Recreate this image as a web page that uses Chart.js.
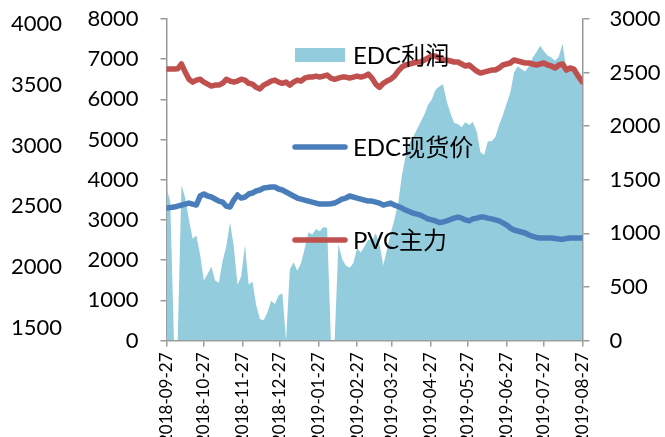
<!DOCTYPE html>
<html>
<head>
<meta charset="utf-8">
<script src="https://cdn.jsdelivr.net/npm/chart.js@4.4.0/dist/chart.umd.min.js"></script>
<style>
  html, body { margin: 0; padding: 0; background: #ffffff; }
  #wrap { width: 665px; height: 437px; }
</style>
</head>
<body>
<div id="wrap"><canvas id="chart" width="665" height="437"></canvas></div>
<script>
// Observation dates (every third day, last point on 2019-08-27)
const dates = [
  '2018-09-27','2018-09-30','2018-10-03','2018-10-06','2018-10-09','2018-10-12','2018-10-15','2018-10-18','2018-10-21','2018-10-24',
  '2018-10-27','2018-10-30','2018-11-02','2018-11-05','2018-11-08','2018-11-11','2018-11-14','2018-11-17','2018-11-20','2018-11-23',
  '2018-11-26','2018-11-29','2018-12-02','2018-12-05','2018-12-08','2018-12-11','2018-12-14','2018-12-17','2018-12-20','2018-12-23',
  '2018-12-26','2018-12-29','2019-01-01','2019-01-04','2019-01-07','2019-01-10','2019-01-13','2019-01-16','2019-01-19','2019-01-22',
  '2019-01-25','2019-01-28','2019-01-31','2019-02-03','2019-02-06','2019-02-09','2019-02-12','2019-02-15','2019-02-18','2019-02-21',
  '2019-02-24','2019-02-27','2019-03-02','2019-03-05','2019-03-08','2019-03-11','2019-03-14','2019-03-17','2019-03-20','2019-03-23',
  '2019-03-26','2019-03-29','2019-04-01','2019-04-04','2019-04-07','2019-04-10','2019-04-13','2019-04-16','2019-04-19','2019-04-22',
  '2019-04-25','2019-04-28','2019-05-01','2019-05-04','2019-05-07','2019-05-10','2019-05-13','2019-05-16','2019-05-19','2019-05-22',
  '2019-05-25','2019-05-28','2019-05-31','2019-06-03','2019-06-06','2019-06-09','2019-06-12','2019-06-15','2019-06-18','2019-06-21',
  '2019-06-24','2019-06-27','2019-06-30','2019-07-03','2019-07-06','2019-07-09','2019-07-12','2019-07-15','2019-07-18','2019-07-21',
  '2019-07-24','2019-07-27','2019-07-30','2019-08-02','2019-08-05','2019-08-08','2019-08-11','2019-08-14','2019-08-17','2019-08-20',
  '2019-08-23','2019-08-27'
];

// EDC利润 (right axis)
const edcProfit = [
  1420, 1300, 0, 0, 1450, 1330, 1130, 950, 980, 800,
  560, 620, 690, 560, 540, 740, 880, 1100, 880, 520,
  600, 890, 520, 550, 330, 200, 190, 260, 370, 340,
  420, 440, 0, 660, 730, 650, 720, 860, 1010, 990,
  1040, 1020, 1060, 1050, 0, 0, 900, 760, 700, 680,
  720, 860, 820, 880, 940, 930, 1000, 900, 700, 850,
  1000, 1130, 1280, 1540, 1720, 1840, 1900, 1970, 2040, 2110,
  2200, 2250, 2340, 2370, 2390, 2230, 2120, 2030, 2020, 1990,
  2040, 2010, 2040, 1950, 1760, 1730, 1860, 1860, 1900, 2010,
  2100, 2210, 2310, 2500, 2560, 2530, 2510, 2560, 2640, 2690,
  2750, 2700, 2660, 2640, 2610, 2650, 2770, 2530, 2550, 2560,
  2490, 2360
];

// EDC现货价 (left axis)
const edcSpot = [
  3295, 3310, 3320, 3345, 3370, 3395, 3420, 3395, 3370, 3595,
  3645, 3595, 3570, 3520, 3470, 3445, 3345, 3320, 3495, 3620,
  3545, 3570, 3645, 3670, 3720, 3745, 3795, 3805, 3820, 3820,
  3770, 3745, 3695, 3645, 3595, 3545, 3520, 3495, 3470, 3445,
  3420, 3395, 3395, 3395, 3405, 3420, 3470, 3520, 3545, 3595,
  3570, 3545, 3520, 3495, 3470, 3470, 3445, 3420, 3370, 3395,
  3420, 3370, 3335, 3295, 3245, 3210, 3170, 3145, 3120, 3070,
  3025, 3000, 2975, 2935, 2950, 2975, 3010, 3045, 3070, 3045,
  3000, 2975, 3025, 3045, 3070, 3070, 3045, 3025, 3000, 2975,
  2925, 2875, 2800, 2750, 2725, 2700, 2675, 2625, 2590, 2565,
  2550, 2550, 2550, 2550, 2540, 2525, 2515, 2540, 2550, 2550,
  2550, 2550
];

// PVC主力 (left axis)
const pvcMain = [
  6755, 6755, 6755, 6760, 6880, 6680, 6500, 6430, 6480, 6500,
  6430, 6380, 6330, 6355, 6355, 6400, 6500, 6455, 6430, 6455,
  6500, 6480, 6400, 6380, 6300, 6260, 6355, 6400, 6455, 6480,
  6430, 6400, 6430, 6355, 6430, 6480, 6455, 6530, 6555, 6555,
  6580, 6555, 6580, 6605, 6530, 6500, 6530, 6555, 6555, 6530,
  6555, 6580, 6555, 6580, 6630, 6530, 6380, 6300, 6400, 6455,
  6500, 6580, 6705, 6805, 6855, 6880, 6905, 6930, 6930, 6980,
  7030, 7080, 7080, 7030, 6980, 6980, 6955, 6930, 6930, 6880,
  6830, 6855, 6780, 6705, 6655, 6680, 6705, 6730, 6730, 6780,
  6855, 6880, 6905, 6980, 6955, 6930, 6905, 6905, 6880, 6855,
  6880, 6905, 6855, 6830, 6780, 6855, 6880, 6730, 6780, 6755,
  6605, 6430
];

// Axis tick labels
const xTickLabels = [
  '2018-09-27','2018-10-27','2018-11-27','2018-12-27','2019-01-27','2019-02-27',
  '2019-03-27','2019-04-27','2019-05-27','2019-06-27','2019-07-27','2019-08-27'
];
const outerLeftTicks = [1500, 2000, 2500, 3000, 3500, 4000];

const seriesNames = ['EDC利润', 'EDC现货价', 'PVC主力'];
const seriesColors = ['#93CDDD', '#4A7EBB', '#C0504D'];

// Calendar-day position of a date relative to the first observation
const DAY = 86400000;
const dayOf = s => (Date.parse(s) - Date.parse(dates[0])) / DAY;
const toPoints = vals => dates.map((d, i) => ({ x: dayOf(d), y: vals[i] }));

const AXIS_GRAY = '#9a9a9a';
const TICK_FONT = { family: 'Lato, "Noto Sans CJK SC", sans-serif', size: 22 };
const plain = v => String(v);

// Fixed box sizes so the plot area sits at the same place on every layout pass
const fixWidth = w => s => { s.width = w; s.paddingTop = 0; s.paddingBottom = 0; };
const fixHeight = h => s => { s.height = h; s.paddingLeft = 0; s.paddingRight = 0; };

// Legend drawn inside the plot, one item per row
const insideLegend = {
  id: 'insideLegend',
  afterDatasetsDraw(chart) {
    const ctx = chart.ctx;
    const symLeft = 295, symRight = 345, textX = 353;
    const rowY = [55, 147, 240];
    ctx.save();
    ctx.font = '24px Lato, "Noto Sans CJK SC", sans-serif';
    ctx.textBaseline = 'middle';
    ctx.textAlign = 'left';
    chart.data.datasets.forEach((ds, i) => {
      const y = rowY[i];
      if (ds.fill) {
        ctx.fillStyle = ds.backgroundColor;
        ctx.fillRect(symLeft, y - 7, symRight - symLeft, 14);
      } else {
        ctx.strokeStyle = ds.borderColor;
        ctx.lineWidth = 5.5;
        ctx.lineCap = 'round';
        ctx.beginPath();
        ctx.moveTo(symLeft, y);
        ctx.lineTo(symRight, y);
        ctx.stroke();
      }
      ctx.fillStyle = '#000000';
      ctx.fillText(ds.label, textX, y + 1);
    });
    ctx.restore();
  }
};

new Chart(document.getElementById('chart'), {
  type: 'line',
  data: {
    datasets: [
      {
        label: seriesNames[0],
        data: toPoints(edcProfit),
        yAxisID: 'yR',
        fill: 'origin',
        backgroundColor: seriesColors[0],
        borderColor: 'rgba(0,0,0,0)',
        borderWidth: 0,
        pointRadius: 0,
        tension: 0,
        order: 3
      },
      {
        label: seriesNames[1],
        data: toPoints(edcSpot),
        yAxisID: 'y',
        fill: false,
        borderColor: seriesColors[1],
        backgroundColor: seriesColors[1],
        borderWidth: 5.5,
        borderCapStyle: 'round',
        borderJoinStyle: 'round',
        pointRadius: 0,
        tension: 0,
        order: 2
      },
      {
        label: seriesNames[2],
        data: toPoints(pvcMain),
        yAxisID: 'y',
        fill: false,
        borderColor: seriesColors[2],
        backgroundColor: seriesColors[2],
        borderWidth: 5.5,
        borderCapStyle: 'round',
        borderJoinStyle: 'round',
        pointRadius: 0,
        tension: 0,
        order: 1
      }
    ]
  },
  options: {
    responsive: false,
    animation: false,
    devicePixelRatio: 1,
    layout: { padding: { top: 19, right: 0, bottom: 0, left: 0 } },
    plugins: { legend: { display: false }, tooltip: { enabled: false } },
    scales: {
      x: {
        type: 'linear',
        min: 0,
        max: dayOf(dates[dates.length - 1]),
        afterBuildTicks: s => { s.ticks = xTickLabels.map(l => ({ value: dayOf(l) })); },
        afterFit: fixHeight(96.5),
        ticks: {
          autoSkip: false,
          minRotation: 90,
          maxRotation: 90,
          padding: 6,
          color: '#000000',
          font: { family: 'Lato, sans-serif', size: 17 },
          callback: (v, i) => xTickLabels[i]
        },
        grid: { drawOnChartArea: false, color: AXIS_GRAY, tickLength: 6, lineWidth: 1.5 },
        border: { color: AXIS_GRAY, width: 1.5 }
      },
      y: {
        position: 'left',
        weight: 0,
        min: 0,
        max: 8000,
        afterFit: fixWidth(102.5),
        ticks: { stepSize: 1000, padding: 22, color: '#000000', font: TICK_FONT, callback: plain },
        grid: { drawOnChartArea: false, color: AXIS_GRAY, tickLength: 6, lineWidth: 1.5 },
        border: { color: AXIS_GRAY, width: 1.5 }
      },
      yO: {
        position: 'left',
        weight: 1,
        min: 1397,
        max: 4041,
        afterBuildTicks: s => { s.ticks = outerLeftTicks.map(v => ({ value: v })); },
        afterFit: fixWidth(64),
        ticks: { padding: 2, color: '#000000', font: TICK_FONT, callback: plain },
        grid: { display: false, drawTicks: false },
        border: { display: false }
      },
      yR: {
        position: 'right',
        min: 0,
        max: 3000,
        afterFit: fixWidth(82.5),
        ticks: { stepSize: 500, padding: 20, color: '#000000', font: TICK_FONT, callback: plain },
        grid: { drawOnChartArea: false, color: AXIS_GRAY, tickLength: 7, lineWidth: 1.5 },
        border: { color: AXIS_GRAY, width: 1.5 }
      }
    }
  },
  plugins: [insideLegend]
});
</script>
</body>
</html>
